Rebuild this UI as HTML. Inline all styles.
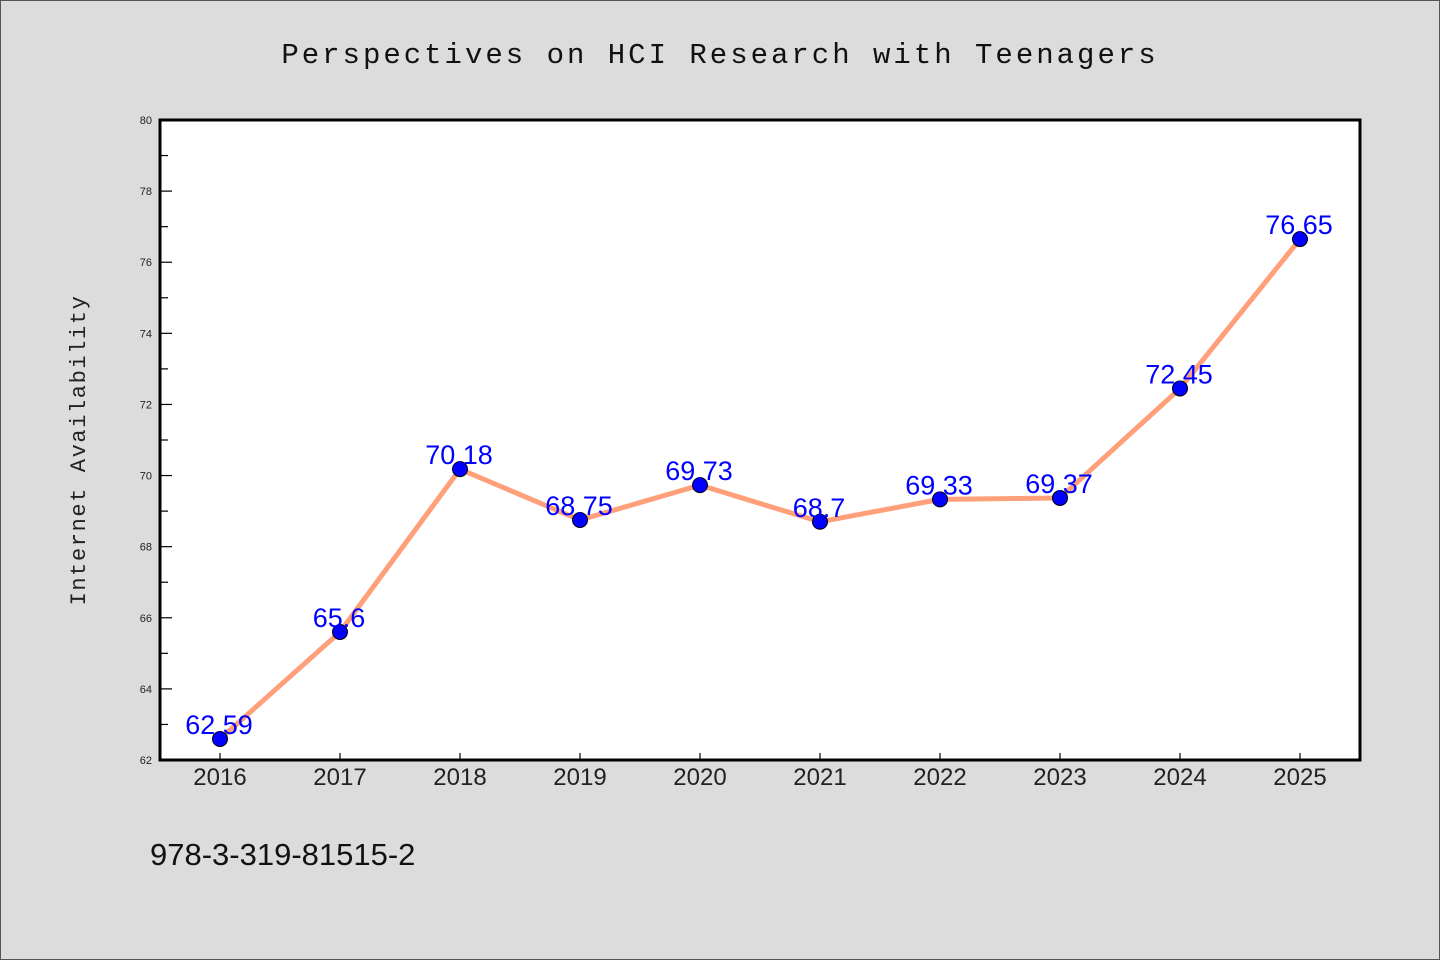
<!DOCTYPE html>
<html><head><meta charset="utf-8"><style>
html,body{margin:0;padding:0;background:#dcdcdc;}
svg{display:block;}
</style></head><body>
<svg width="1440" height="960" xmlns="http://www.w3.org/2000/svg">
<rect x="0.5" y="0.5" width="1439" height="959" fill="#dcdcdc" stroke="#555" stroke-width="1"/>
<text x="720" y="63" text-anchor="middle" font-family="Liberation Mono, DejaVu Sans Mono, monospace" font-size="29" letter-spacing="3" fill="#111">Perspectives on HCI Research with Teenagers</text>
<rect x="160" y="120" width="1200" height="640" fill="#fff"/>
<g id="ticks"></g>
<g id="series"></g>
<rect x="160" y="120" width="1200" height="640" fill="none" stroke="#000" stroke-width="3"/>
<text transform="translate(85,450) rotate(-90)" text-anchor="middle" font-family="Liberation Mono, DejaVu Sans Mono, monospace" font-size="22" letter-spacing="1.6" fill="#222">Internet Availability</text>
<text x="150" y="865" font-family="Liberation Sans, sans-serif" font-size="31" fill="#111">978-3-319-81515-2</text>
</svg>
<script>
const categories = ["2016","2017","2018","2019","2020","2021","2022","2023","2024","2025"];
const values = [62.59,65.6,70.18,68.75,69.73,68.7,69.33,69.37,72.45,76.65];
const valueLabels = ["62.59","65.6","70.18","68.75","69.73","68.7","69.33","69.37","72.45","76.65"];
const yTicks = [62,64,66,68,70,72,74,76,78,80];
const yMin = 62, yMax = 80;
const NS = "http://www.w3.org/2000/svg";
function xs(i){ return 220 + i*120; }
function ys(v){ return 760 - (v - yMin)/(yMax - yMin)*640; }
function mk(tag, attrs, parent){ const e=document.createElementNS(NS,tag); for(const k in attrs) e.setAttribute(k,attrs[k]); parent.appendChild(e); return e; }
const tg = document.getElementById('ticks');
yTicks.forEach(function(t){
  const y = ys(t);
  const l = mk('line',{x1:160,x2:172,y1:y,y2:y,stroke:'#000','stroke-width':1.2},tg);
  
  
  const tx = mk('text',{x:152,y:y+4,'text-anchor':'end','font-family':'Liberation Sans, sans-serif','font-size':11,fill:'#222'},tg);
  tx.textContent = t;
  
  
  if (t < yMax) {
    const m = ys(t+1);
    const ml = mk('line',{x1:160,x2:168,y1:m,y2:m,stroke:'#000','stroke-width':1.2},tg);
    
    
  }
});
categories.forEach(function(c,i){
  const x = xs(i);
  const l = mk('line',{x1:x,x2:x,y1:760,y2:753,stroke:'#000','stroke-width':1.2},tg);
  
  
  const tx = mk('text',{x:x,y:785,'text-anchor':'middle','font-family':'Liberation Sans, sans-serif','font-size':24,fill:'#222'},tg);
  tx.textContent = c;
  
  
});
const sg = document.getElementById('series');
const pts = values.map(function(v,i){ return xs(i)+','+ys(v); }).join(' ');
const pl = mk('polyline',{points:pts,fill:'none',stroke:'#ffa07a','stroke-width':5,'stroke-linejoin':'round','stroke-linecap':'round'},sg);


values.forEach(function(v,i){
  const c = mk('circle',{cx:xs(i),cy:ys(v),r:7.5,fill:'#0000ff',stroke:'#000','stroke-width':1},sg);
  
  
});
values.forEach(function(v,i){
  const t = mk('text',{x:xs(i)-1,y:ys(v)-5,'text-anchor':'middle','font-family':'Liberation Sans, sans-serif','font-size':27,fill:'#0000ff'},sg);
  t.textContent = valueLabels[i];
  
  
});
</script>
</body></html>
